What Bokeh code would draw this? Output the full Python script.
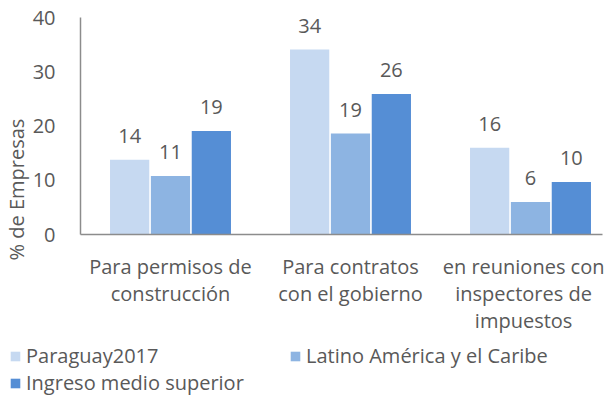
import numpy as np
from bokeh.plotting import figure
from bokeh.layouts import column
from bokeh.models import ColumnDataSource, Range1d, FixedTicker, LabelSet, Legend, LegendItem, Title
from bokeh.core.properties import value
from bokeh.embed import file_html
from bokeh.resources import INLINE

categories = ["Para permisos de\nconstrucción", "Para contratos\ncon el gobierno", "en reuniones con\ninspectores de\nimpuestos"]
series_names = ["Paraguay2017", "Latino América y el Caribe", "Ingreso medio superior"]
paraguay = [13.8, 34.1, 16.0]
lac = [10.8, 18.6, 6.0]
umi = [19.1, 25.9, 9.7]
y_ticks = [0, 10, 20, 30, 40]

colors = ["#C6D9F1", "#8DB4E2", "#558ED5"]
FONT = "Open Sans"
FS = "20px"
TXT = "#595959"

p = figure(width=604, height=336, output_backend="svg", toolbar_location=None,
           x_range=Range1d(-0.5, 2.40), y_range=Range1d(0, 40),
           min_border_left=72, min_border_right=2, min_border_top=17, min_border_bottom=99)
p.outline_line_color = None
p.grid.grid_line_color = None

offsets = [-0.227, 0.0, 0.227]
for vals, off, col in zip([paraguay, lac, umi], offsets, colors):
    src = ColumnDataSource(dict(x=np.arange(len(vals)) + off, top=vals,
                                lbl=[f"{v:.0f}" for v in vals]))
    p.vbar(x="x", top="top", width=0.218, source=src, fill_color=col, line_color=None)
    p.add_layout(LabelSet(x="x", y="top", text="lbl", source=src, y_offset=17,
                          text_align="center", text_baseline="alphabetic",
                          text_font=value(FONT), text_font_size=value(FS), text_color=TXT))

p.xaxis.ticker = FixedTicker(ticks=list(range(len(categories))))
p.xaxis.major_label_overrides = {i: c for i, c in enumerate(categories)}
p.yaxis.ticker = FixedTicker(ticks=y_ticks)
for ax in (p.xaxis, p.yaxis):
    ax.axis_line_color = "#8C8C8C"
    ax.axis_line_width = 1.5
    ax.major_tick_line_color = None
    ax.minor_tick_line_color = None
    ax.major_label_text_font = FONT
    ax.major_label_text_font_size = FS
    ax.major_label_text_color = TXT
p.xaxis.major_label_text_line_height = 1.0
p.xaxis.major_label_standoff = 12
p.yaxis.major_label_standoff = 19

ytitle = Title(text="% de Empresas", align="left", offset=-26, standoff=0,
               text_font=FONT, text_font_size=FS, text_font_style="normal", text_color=TXT)
p.add_layout(ytitle, "left")

# legend in its own strip below the chart
lg = figure(width=604, height=62, output_backend="svg", toolbar_location=None,
            x_range=Range1d(0, 1), y_range=Range1d(0, 1), min_border=0,
            min_border_left=9, min_border_top=6,
            x_axis_location=None, y_axis_location=None)
lg.outline_line_color = None
lg.grid.grid_line_color = None
for fig in (p, lg):
    try:
        fig.frame_align = False
    except Exception:
        pass
dummies = [lg.vbar(x=[5], top=[5], width=0.1, fill_color=c, line_color=None) for c in colors]
legend = Legend(items=[LegendItem(label=n, renderers=[r]) for n, r in zip(series_names, dummies)],
                location="top_left", ncols=2, orientation="horizontal")
legend.glyph_width = 12
legend.glyph_height = 12
legend.label_height = 24
legend.label_width = 263
legend.label_standoff = 5
legend.spacing = 0
legend.padding = 0
legend.margin = 0
legend.border_line_color = None
legend.background_fill_alpha = 0
legend.label_text_font = FONT
legend.label_text_font_size = FS
legend.label_text_color = TXT
lg.add_layout(legend, "center")

layout = column(p, lg, spacing=0)
open("out.html", "w").write(file_html(layout, INLINE))
